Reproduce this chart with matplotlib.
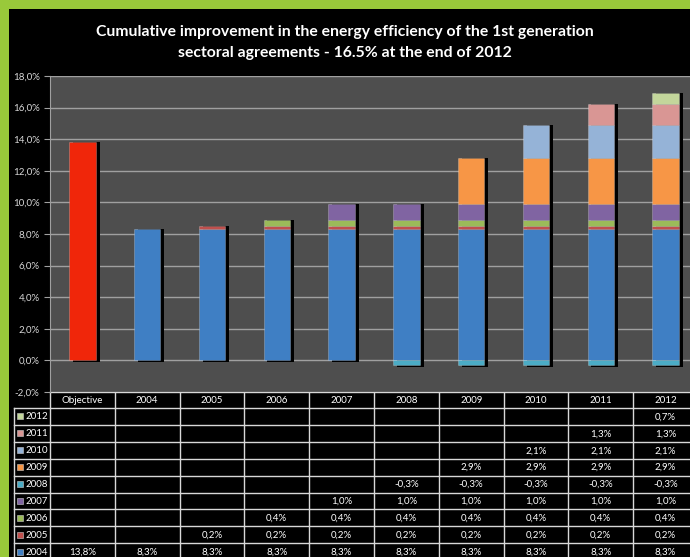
import matplotlib.pyplot as plt
import matplotlib.ticker as mticker
import numpy as np

plt.rcParams['font.family'] = ['Lato', 'DejaVu Sans']

# Chart data
categories = ['Objective', '2004', '2005', '2006', '2007', '2008', '2009', '2010', '2011', '2012']
series_names = ['2004', '2005', '2006', '2007', '2008', '2009', '2010', '2011', '2012']

v2004 = [13.8, 8.3, 8.3, 8.3, 8.3, 8.3, 8.3, 8.3, 8.3, 8.3]
v2005 = [None, None, 0.2, 0.2, 0.2, 0.2, 0.2, 0.2, 0.2, 0.2]
v2006 = [None, None, None, 0.4, 0.4, 0.4, 0.4, 0.4, 0.4, 0.4]
v2007 = [None, None, None, None, 1.0, 1.0, 1.0, 1.0, 1.0, 1.0]
v2008 = [None, None, None, None, None, -0.3, -0.3, -0.3, -0.3, -0.3]
v2009 = [None, None, None, None, None, None, 2.9, 2.9, 2.9, 2.9]
v2010 = [None, None, None, None, None, None, None, 2.1, 2.1, 2.1]
v2011 = [None, None, None, None, None, None, None, None, 1.3, 1.3]
v2012 = [None, None, None, None, None, None, None, None, None, 0.7]
series = [v2004, v2005, v2006, v2007, v2008, v2009, v2010, v2011, v2012]

colors = ['#3f7fc4', '#c0504d', '#9bbb59', '#8064a2', '#4bacc6',
          '#f79646', '#95b3d7', '#d99694', '#c3d69b']
objective_color = '#f0260a'

W, H = 690, 557
fig = plt.figure(figsize=(W / 100, H / 100), dpi=100)
fig.patch.set_facecolor('#99c93a')

# black panel behind everything (pixel coordinates)
bg = fig.add_axes([0, 0, 1, 1])
bg.set_xlim(0, W)
bg.set_ylim(H, 0)
bg.axis('off')
bg.add_patch(plt.Rectangle((9, 9), W, H, facecolor='black', edgecolor='none'))

bg.text(345, 32, 'Cumulative improvement in the energy efficiency of the 1st generation',
        color='white', fontsize=11.3, fontweight='bold', ha='center', va='center')
bg.text(345, 53, 'sectoral agreements - 16.5% at the end of 2012',
        color='white', fontsize=11.3, fontweight='bold', ha='center', va='center')

# plot area geometry in pixels
left, right, top, bottom = 50, 698, 76, 392
ax = fig.add_axes([left / W, 1 - bottom / H, (right - left) / W, (bottom - top) / H])
ax.set_facecolor('#4e4e4e')

x = np.arange(len(categories))
width = 0.41

# shadows
for i in x:
    pos = sum(s[i] for s in series if s[i] is not None and s[i] > 0)
    neg = sum(s[i] for s in series if s[i] is not None and s[i] < 0)
    ax.bar(i + 0.06, pos - neg + 0.1, width, bottom=neg - 0.1, color='black', zorder=2)

# stacked segments
pos_bottom = np.zeros(len(categories))
neg_bottom = np.zeros(len(categories))
for s, c in zip(series, colors):
    for i, v in enumerate(s):
        if v is None:
            continue
        col = objective_color if categories[i] == 'Objective' else c
        if v >= 0:
            b = pos_bottom[i]
            pos_bottom[i] += v
        else:
            b = neg_bottom[i]
            neg_bottom[i] += v
        ax.bar(i, v, width, bottom=b, color=col, zorder=3,
               edgecolor=(1, 1, 1, 0.25), linewidth=0.6)

ax.set_xlim(-0.5, len(categories) - 0.5)
ax.set_ylim(-2, 18)
ax.set_yticks(np.arange(-2, 18.1, 2))
ax.yaxis.set_major_formatter(mticker.FuncFormatter(lambda v, p: f'{v:.1f}%'.replace('.', ',')))
ax.grid(axis='y', color='#a0a0a0', linewidth=1)
ax.set_axisbelow(True)
ax.tick_params(axis='y', colors='#d8d8d8', labelsize=7, length=4, color='#a0a0a0')
ax.tick_params(axis='x', bottom=False, labelbottom=False)
for sp in ['top', 'right', 'bottom']:
    ax.spines[sp].set_visible(False)
ax.spines['left'].set_color('#a0a0a0')

# data table below the plot
col_w = (right - left) / len(categories)
head_top, head_bot = 392, 408
row_h = 16.9
label_left = 14
line_c = '#d8d8d8'

n_rows = len(series)
table_bot = head_bot + n_rows * row_h
# header row
bg.plot([left, right], [head_top, head_top], color=line_c, lw=1)
for k in range(len(categories) + 1):
    xx = left + k * col_w
    bg.plot([xx, xx], [head_top, table_bot], color=line_c, lw=1)
bg.plot([label_left, label_left], [head_bot, table_bot], color=line_c, lw=1)
for r in range(n_rows + 1):
    yy = head_bot + r * row_h
    bg.plot([label_left, right], [yy, yy], color=line_c, lw=1)

for k, cat in enumerate(categories):
    bg.text(left + (k + 0.5) * col_w, (head_top + head_bot) / 2 + 0.5, cat,
            color='white', fontsize=7, ha='center', va='center')

# rows: top row is last series
for r in range(n_rows):
    j = n_rows - 1 - r
    yc = head_bot + (r + 0.5) * row_h
    bg.add_patch(plt.Rectangle((17, yc - 3), 6, 6, facecolor=colors[j], edgecolor='#cccccc', lw=0.4))
    bg.text(25, yc + 0.5, series_names[j], color='white', fontsize=7, ha='left', va='center')
    for k, v in enumerate(series[j]):
        if v is None:
            continue
        bg.text(left + (k + 0.5) * col_w, yc + 0.5, f'{v:.1f}%'.replace('.', ','),
                color='white', fontsize=7, ha='center', va='center')

fig.savefig('out.png', dpi=100, facecolor=fig.get_facecolor())
